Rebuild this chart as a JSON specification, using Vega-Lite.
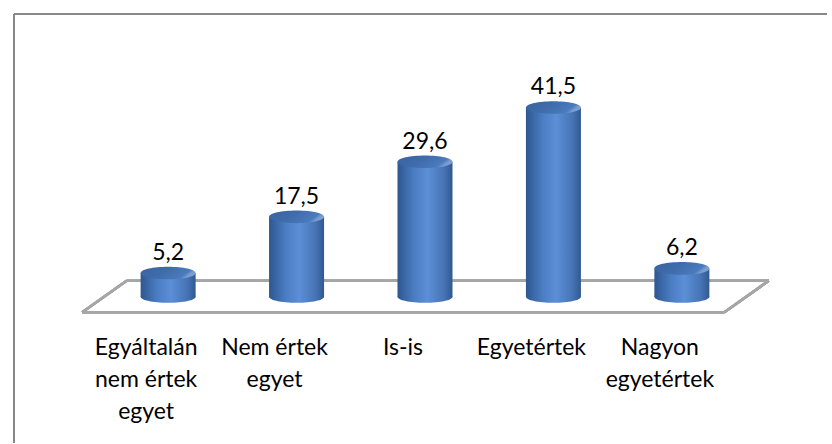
{
  "$schema": "https://vega.github.io/schema/vega-lite/v6.json",
  "autosize": {"type": "fit", "contains": "padding"},
  "width": 832,
  "height": 444,
  "padding": {"left": 9, "top": 13, "right": 0, "bottom": 0},
  "background": "white",
  "config": {
    "view": {"stroke": null}
  },
  "data": {
    "values": [
      {"sorszam": 1, "kategoria": "Egyáltalán\nnem értek\negyet", "ertek": 5.2},
      {"sorszam": 2, "kategoria": "Nem értek\negyet", "ertek": 17.5},
      {"sorszam": 3, "kategoria": "Is-is", "ertek": 29.6},
      {"sorszam": 4, "kategoria": "Egyetértek", "ertek": 41.5},
      {"sorszam": 5, "kategoria": "Nagyon\negyetértek", "ertek": 6.2}
    ]
  },
  "encoding": {
    "x": {"field": "sorszam", "type": "quantitative", "scale": {"domain": [-0.2, 6.13], "nice": false, "zero": false}, "axis": null},
    "y": {"field": "ertek", "type": "quantitative", "scale": {"domain": [-32.1, 62.0], "nice": false, "zero": false}, "axis": null}
  },
  "layer": [
    {
      "mark": {"type": "rule", "stroke": "#888888", "strokeWidth": 2},
      "encoding": {"x": {"datum": -0.2}, "y": {"datum": -32.1}, "y2": {"datum": 62.0}}
    },
    {
      "mark": {"type": "rule", "stroke": "#888888", "strokeWidth": 2},
      "encoding": {"x": {"datum": -0.2}, "x2": {"datum": 6.13}, "y": {"datum": 62.0}}
    },
    {
      "mark": {"type": "rule", "stroke": "#a6a6a6", "strokeWidth": 2.5},
      "encoding": {"x": {"datum": 0.677}, "x2": {"datum": 5.677}, "y": {"datum": 3.5}}
    },
    {
      "mark": {"type": "rule", "stroke": "#a6a6a6", "strokeWidth": 2.5},
      "encoding": {"x": {"datum": 0.331}, "x2": {"datum": 5.331}, "y": {"datum": -3.4}}
    },
    {
      "mark": {"type": "rule", "stroke": "#a6a6a6", "strokeWidth": 2.5},
      "encoding": {"x": {"datum": 0.331}, "x2": {"datum": 0.677}, "y": {"datum": -3.4}, "y2": {"datum": 3.5}}
    },
    {
      "mark": {"type": "rule", "stroke": "#a6a6a6", "strokeWidth": 2.5},
      "encoding": {"x": {"datum": 5.331}, "x2": {"datum": 5.677}, "y": {"datum": -3.4}, "y2": {"datum": 3.5}}
    },
    {
      "mark": {
        "type": "point", "filled": true, "size": 3025, "opacity": 1, "strokeWidth": 0,
        "shape": "M-1,0 A1,0.22 0 1,0 1,0 A1,0.22 0 1,0 -1,0 Z",
        "fill": {"gradient": "linear", "x1": 0, "y1": 0, "x2": 1, "y2": 0,
          "stops": [{"offset": 0, "color": "#2f5690"}, {"offset": 0.3, "color": "#4a7dc2"}, {"offset": 0.55, "color": "#5b8fd6"}, {"offset": 0.85, "color": "#4673b5"}, {"offset": 1, "color": "#31598f"}]}
      },
      "encoding": {"y": {"datum": 0}}
    },
    {
      "mark": {
        "type": "bar", "width": 55,
        "fill": {"gradient": "linear", "x1": 0, "y1": 0, "x2": 1, "y2": 0,
          "stops": [{"offset": 0, "color": "#2f5690"}, {"offset": 0.3, "color": "#4a7dc2"}, {"offset": 0.55, "color": "#5b8fd6"}, {"offset": 0.85, "color": "#4673b5"}, {"offset": 1, "color": "#31598f"}]}
      },
      "encoding": {
        "y2": {"datum": 0}
      }
    },
    {
      "mark": {
        "type": "point", "filled": true, "size": 3025, "opacity": 1, "strokeWidth": 0,
        "shape": "M-1,0 A1,0.23 0 1,0 1,0 A1,0.23 0 1,0 -1,0 Z",
        "fill": {"gradient": "linear", "x1": 0, "y1": 0, "x2": 1, "y2": 0.3,
          "stops": [{"offset": 0, "color": "#3a63a0"}, {"offset": 0.5, "color": "#3f6cab"}, {"offset": 0.9, "color": "#4a7bbd"}, {"offset": 1, "color": "#7d9fd0"}]}
      },
      "encoding": {}
    },
    {
      "mark": {"type": "text", "font": "Lato", "fontSize": 23, "color": "#000000", "dy": -13, "baseline": "alphabetic",
        "text": {"expr": "replace(format(datum.ertek, '.1f'), '.', ',')"}},
      "encoding": {}
    },
    {
      "mark": {"type": "text", "font": "Lato", "fontSize": 23, "color": "#000000", "lineBreak": "\n", "lineHeight": 32, "baseline": "alphabetic", "align": "center", "dy": 58, "dx": -22},
      "encoding": {
        "y": {"datum": 0},
        "text": {"field": "kategoria", "type": "nominal"}
      }
    }
  ]
}
